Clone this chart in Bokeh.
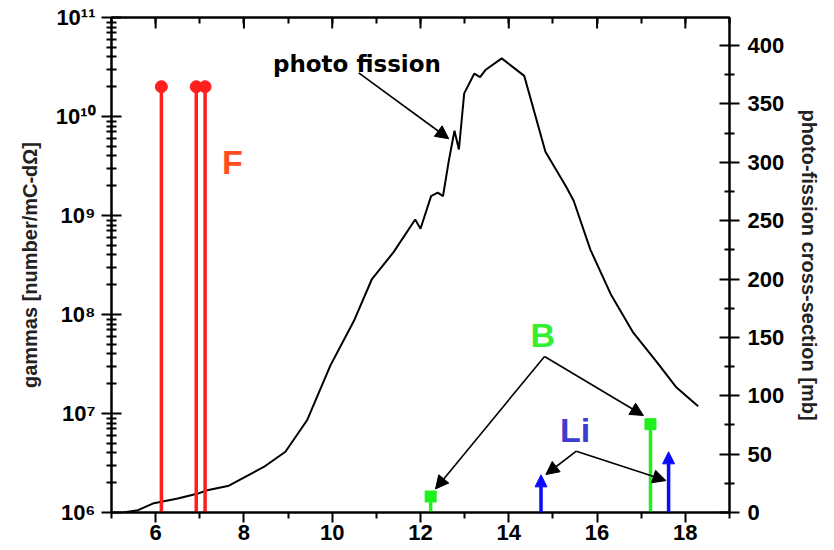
from bokeh.plotting import figure
from bokeh.models import (Range1d, LinearAxis, LogAxis, FixedTicker, LinearScale,
                          ColumnDataSource, Arrow, NormalHead, Label)
from bokeh.embed import file_html
from bokeh.resources import INLINE

# ---------------- data ----------------
fission_energy = [5.26, 5.6, 5.96, 6.5, 6.94, 7.17, 7.66, 8.45, 8.94, 9.43, 9.96, 10.49,
                  10.9, 11.39, 11.88, 12.0, 12.24, 12.39, 12.51, 12.64, 12.77, 12.87,
                  12.99, 13.22, 13.35, 13.47, 13.84, 14.35, 14.83, 15.3, 15.47, 15.85,
                  16.31, 16.82, 17.35, 17.8, 18.29]
fission_xs = [0, 2, 8, 12, 16, 19, 23, 39, 52, 79, 126, 164,
              200, 223, 251, 243, 271, 274, 271, 301, 327, 311,
              359, 376, 373, 379, 389, 374, 309, 279, 267, 225,
              187, 154, 129, 107, 91]

f_energy = [6.13, 6.92, 7.12]
f_yield = [2.0e10, 2.0e10, 2.0e10]
b_energy = [12.23, 17.21]
b_yield = [1.45e6, 7.8e6]
li_energy = [14.73, 17.62]
li_yield = [2.4e6, 4.1e6]

x_ticks = [6, 8, 10, 12, 14, 16, 18]
x_minor = [5, 7, 9, 11, 13, 15, 17, 19]
y_log_ticks = [1e6, 1e7, 1e8, 1e9, 1e10, 1e11]
y_log_labels = ["10\u2076", "10\u2077", "10\u2078", "10\u2079", "10\u00b9\u2070", "10\u00b9\u00b9"]
y_log_minor = [m * 10.0 ** e for e in range(6, 11) for m in range(2, 10)]
mb_ticks = [0, 50, 100, 150, 200, 250, 300, 350, 400]
mb_minor = [25, 75, 125, 175, 225, 275, 325, 375]

X_MIN, X_MAX = 5, 19
Y_BASE, Y_TOP = 1e6, 1e11
FONT = "Liberation Sans"

p = figure(frame_width=618, frame_height=495,
           min_border_left=111, min_border_right=105, min_border_top=17, min_border_bottom=38,
           x_range=Range1d(X_MIN, X_MAX), y_range=Range1d(Y_BASE, Y_TOP), y_axis_type="log",
           x_axis_location=None, y_axis_location=None,
           output_backend="svg", toolbar_location=None)
p.extra_y_ranges = {"mb": Range1d(0, 424)}
p.extra_y_scales = {"mb": LinearScale()}
p.grid.visible = False
p.outline_line_color = "black"
p.outline_line_width = 2
p.background_fill_color = "white"
p.border_fill_color = "white"


def style(ax, tin, tout, mtin, mtout):
    ax.axis_line_width = 2
    ax.axis_line_color = "black"
    ax.major_tick_line_width = 2
    ax.minor_tick_line_width = 2
    ax.major_tick_line_color = "black"
    ax.minor_tick_line_color = "black"
    ax.major_tick_in = tin
    ax.major_tick_out = tout
    ax.minor_tick_in = mtin
    ax.minor_tick_out = mtout
    ax.major_label_text_font = FONT
    ax.major_label_text_font_style = "bold"
    ax.major_label_text_font_size = "22px"
    ax.major_label_text_color = "black"
    ax.axis_label_text_font = FONT
    ax.axis_label_text_font_style = "bold"
    ax.axis_label_text_font_size = "20px"
    ax.axis_label_text_color = "#222222"


left = LogAxis(ticker=FixedTicker(ticks=y_log_ticks, minor_ticks=y_log_minor),
               major_label_overrides=dict(zip(y_log_ticks, y_log_labels)),
               axis_label="gammas [number/mC-d\u03a9]")
style(left, 10, 10, 5, 5)
left.major_label_standoff = 6
left.axis_label_standoff = 12
p.add_layout(left, "left")

bottom = LinearAxis(ticker=FixedTicker(ticks=x_ticks, minor_ticks=x_minor))
style(bottom, 0, 10, 0, 6)
bottom.major_label_standoff = 2
p.add_layout(bottom, "below")

# top axis: only tick marks, no labels (all integer positions as short ticks)
top = LinearAxis(ticker=FixedTicker(ticks=[], minor_ticks=x_minor + x_ticks))
style(top, 0, 0, 6, 0)
p.add_layout(top, "above")
# longer inward ticks at the labelled energies on the top edge
p.ray(x=x_ticks, y=[Y_TOP] * len(x_ticks), length=11, length_units="screen",
      angle=-90, angle_units="deg", line_color="black", line_width=2)

right = LinearAxis(y_range_name="mb", ticker=FixedTicker(ticks=mb_ticks, minor_ticks=mb_minor),
                   axis_label="photo-fission cross-section [mb]")
style(right, 10, 10, 5, 5)
right.major_label_standoff = 8
right.axis_label_standoff = 11
p.add_layout(right, "right")

# photo-fission cross section curve
p.line(fission_energy, fission_xs, y_range_name="mb", line_color="black", line_width=2)

# F lines
p.segment(x0=f_energy, y0=[Y_BASE] * len(f_energy), x1=f_energy, y1=f_yield,
          line_color="#ff1f1f", line_width=3.5)
p.scatter(f_energy, f_yield, size=12, marker="circle", color="#ff1f1f")

# B lines
p.segment(x0=b_energy, y0=[Y_BASE] * len(b_energy), x1=b_energy, y1=b_yield,
          line_color="#1ef01e", line_width=3.5)
p.scatter(b_energy, b_yield, size=11, marker="square", color="#1ef01e")

# Li upper-limit arrows
li_src = ColumnDataSource(dict(x=li_energy, y0=[Y_BASE] * len(li_energy), y1=li_yield))
p.add_layout(Arrow(source=li_src, x_start="x", y_start="y0", x_end="x", y_end="y1",
                   line_color="#0a0aff", line_width=3.5,
                   end=NormalHead(size=12, fill_color="#0a0aff", line_color="#0a0aff")))

# annotation arrows (pointer lines)
ann = ColumnDataSource(dict(
    xs=[10.6, 14.81, 14.81, 15.53, 15.53],
    ys=[2.76e10, 3.77e7, 3.77e7, 4.16e6, 4.16e6],
    xe=[12.64, 12.34, 17.05, 14.84, 17.56],
    ye=[5.96e9, 1.73e6, 9.55e6, 2.42e6, 2.1e6],
))
p.add_layout(Arrow(source=ann, x_start="xs", y_start="ys", x_end="xe", y_end="ye",
                   line_color="black", line_width=1.6,
                   end=NormalHead(size=13, fill_color="black", line_color="black")))

# texts
p.add_layout(Label(x=10.56, y=3.4e10, text="photo fission", text_align="center",
                   text_baseline="alphabetic", text_font="DejaVu Sans", text_font_style="bold",
                   text_font_size="23px", text_color="black"))
p.add_layout(Label(x=7.74, y=3.51e9, text="F", text_align="center", text_baseline="middle",
                   text_font=FONT, text_font_style="bold", text_font_size="34px",
                   text_color="#ff4d1f"))
p.add_layout(Label(x=14.77, y=6.28e7, text="B", text_align="center", text_baseline="middle",
                   text_font=FONT, text_font_style="bold", text_font_size="34px",
                   text_color="#33ee33"))
p.add_layout(Label(x=15.5, y=6.89e6, text="Li", text_align="center", text_baseline="middle",
                   text_font=FONT, text_font_style="bold", text_font_size="34px",
                   text_color="#3c3cd2"))

open("out.html", "w").write(file_html(p, INLINE))
